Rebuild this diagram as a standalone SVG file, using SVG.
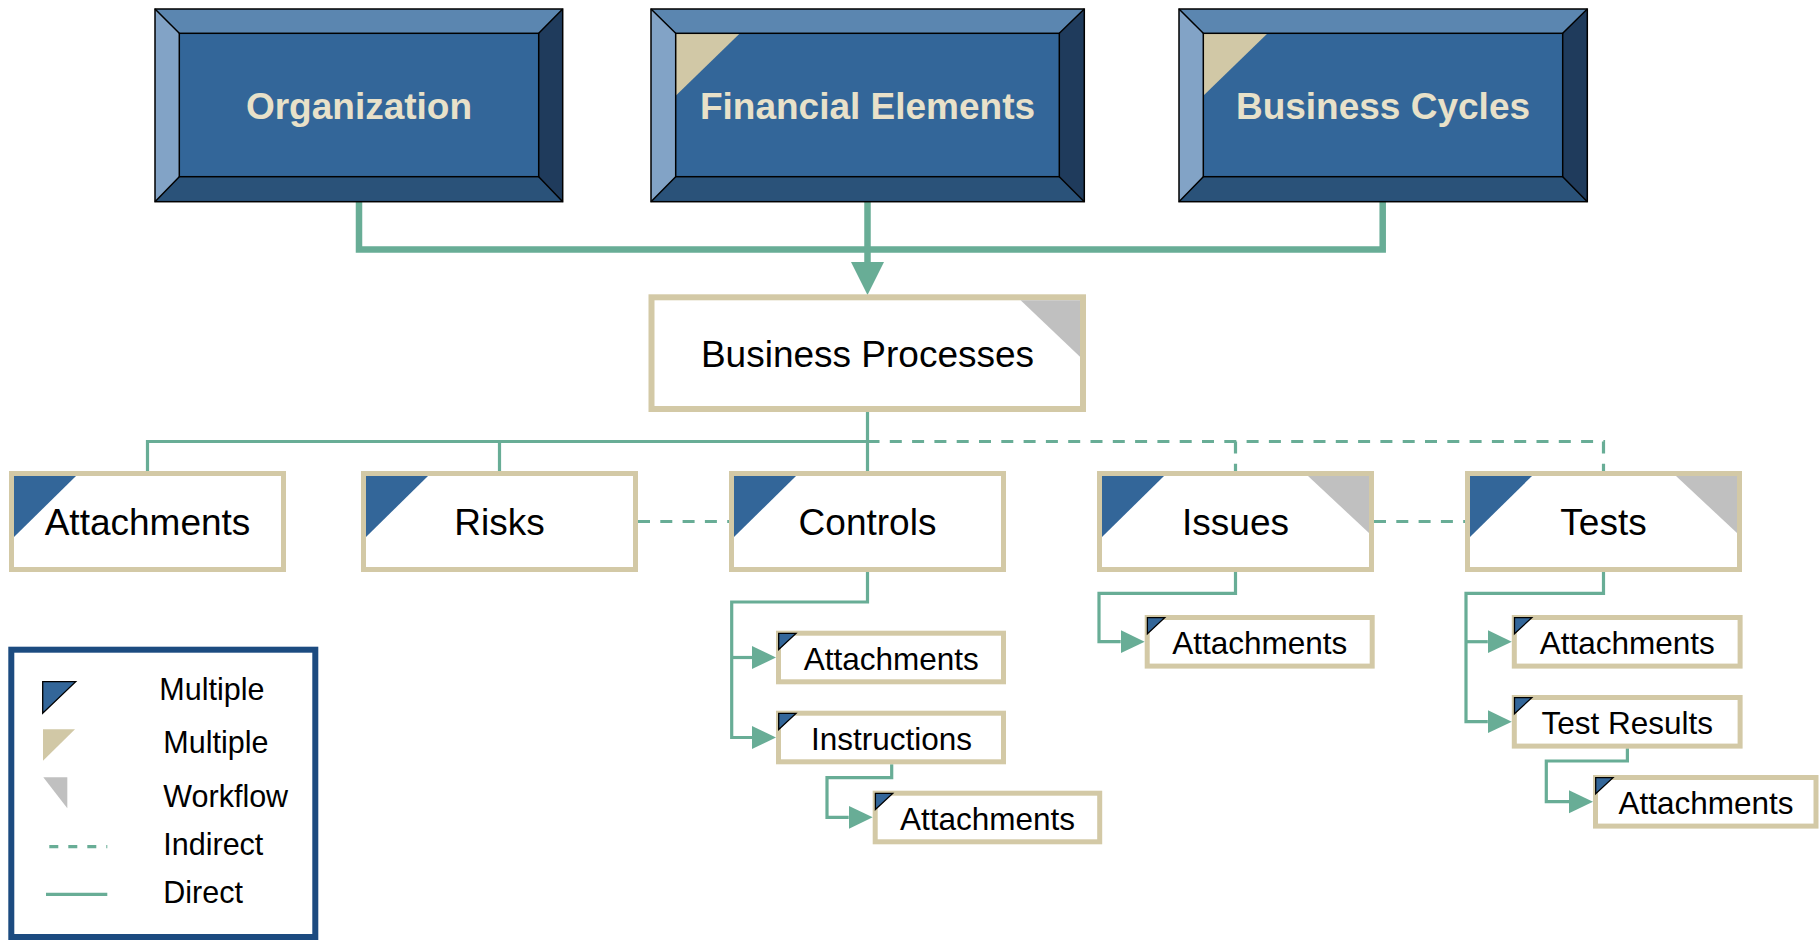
<svg xmlns="http://www.w3.org/2000/svg" width="1820" height="941" viewBox="0 0 1820 941">
  <defs>
    <style>
      .top-c{fill:#336699}
      .bev-t{fill:#5b86b0}
      .bev-l{fill:#82a3c6}
      .bev-r{fill:#1f3b5c}
      .bev-b{fill:#2a5279}
      .edge{fill:none;stroke:#000;stroke-width:1.5}
      .ttl{font-family:"Liberation Sans",Arial,sans-serif;font-weight:bold;font-size:37px;fill:#e8e1c9;text-anchor:middle}
      .tri-beige{fill:#d1c8a6}
      .box{fill:#fff;stroke:#d3c9a6;stroke-width:5}
      .box6{fill:#fff;stroke:#d3c9a6;stroke-width:6}
      .lbl{font-family:"Liberation Sans",Arial,sans-serif;font-size:37px;fill:#000;text-anchor:middle}
      .slbl{font-family:"Liberation Sans",Arial,sans-serif;font-size:31.5px;fill:#000;text-anchor:middle}
      .leg{font-family:"Liberation Sans",Arial,sans-serif;font-size:30.5px;fill:#000}
      .tri-blue{fill:#336699}
      .tri-sblue{fill:#336699;stroke:#000;stroke-width:1.3}
      .tri-gray{fill:#c0c0c0}
      .thick{fill:none;stroke:#68ad96;stroke-width:6.5;stroke-linejoin:miter}
      .thin{fill:none;stroke:#68ad96;stroke-width:3.2;stroke-linejoin:miter}
      .dash{fill:none;stroke:#68ad96;stroke-width:3.2;stroke-dasharray:12 10.3}
      .arr{fill:none;stroke:#68ad96;stroke-width:3.2;marker-end:url(#arrow)}
    </style>
    <marker id="arrow" markerUnits="userSpaceOnUse" markerWidth="24" markerHeight="24" viewBox="0 0 24 24" refX="0" refY="12" orient="auto">
      <path d="M0,0.5 L24,12 L0,23.5 z" fill="#68ad96"/>
    </marker>
  </defs>

  <!-- Connectors -->
  <g id="connectors">
    <path class="thick" d="M359,201.7 V249.5 H1382.7 V201.7"/>
    <path class="thick" d="M867.5,201.7 V264"/>
    <polygon points="851,262 884,262 867.5,295" fill="#68ad96"/>

    <path class="thin" d="M147.5,471 V441.5 H867.5"/>
    <path class="thin" d="M499.5,441.5 V471"/>
    <path class="thin" d="M867.5,412 V471"/>
    <path class="dash" d="M867.5,441.5 H1603.5 V471"/>
    <path class="dash" d="M1235.5,441.5 V471"/>
    <path class="dash" d="M638,521.5 H729"/>
    <path class="dash" d="M1374,521.5 H1465"/>

    <path class="arr" d="M867.5,572 V602 H731.7 V737.5 H752"/>
    <path class="arr" d="M731.7,657.5 H752"/>
    <path class="arr" d="M891.7,764.3 V777.7 H827 V817.3 H848.7"/>
    <path class="arr" d="M1235.5,572 V593.3 H1099 V641.7 H1120.7"/>
    <path class="arr" d="M1603.5,572 V593.3 H1466 V721.7 H1487.8"/>
    <path class="arr" d="M1466,641.7 H1487.8"/>
    <path class="arr" d="M1627.4,748.3 V761 H1546.3 V801.7 H1569"/>
  </g>

  <!-- Top beveled nodes -->
  <g id="node-organization">
    <rect class="top-c" x="179.3" y="33.3" width="359.4" height="143.4"/>
    <polygon class="bev-t" points="155,9 562.7,9 538.7,33.3 179.3,33.3"/>
    <polygon class="bev-l" points="155,9 179.3,33.3 179.3,176.7 155,201.7"/>
    <polygon class="bev-r" points="562.7,9 562.7,201.7 538.7,176.7 538.7,33.3"/>
    <polygon class="bev-b" points="155,201.7 179.3,176.7 538.7,176.7 562.7,201.7"/>
    <rect class="edge" x="155" y="9" width="407.7" height="192.7"/>
    <rect class="edge" x="179.3" y="33.3" width="359.4" height="143.4"/>
    <path class="edge" d="M155,9 L179.3,33.3 M562.7,9 L538.7,33.3 M155,201.7 L179.3,176.7 M562.7,201.7 L538.7,176.7"/>
    <text class="ttl" x="359" y="119">Organization</text>
  </g>

  <g id="node-financial-elements">
    <rect class="top-c" x="675.7" y="33.3" width="383.6" height="143.4"/>
    <polygon class="bev-t" points="651,9 1084.3,9 1059.3,33.3 675.7,33.3"/>
    <polygon class="bev-l" points="651,9 675.7,33.3 675.7,176.7 651,201.7"/>
    <polygon class="bev-r" points="1084.3,9 1084.3,201.7 1059.3,176.7 1059.3,33.3"/>
    <polygon class="bev-b" points="651,201.7 675.7,176.7 1059.3,176.7 1084.3,201.7"/>
    <polygon class="tri-beige" points="675.7,33.3 740,33.3 675.7,95.7"/>
    <rect class="edge" x="651" y="9" width="433.3" height="192.7"/>
    <rect class="edge" x="675.7" y="33.3" width="383.6" height="143.4"/>
    <path class="edge" d="M651,9 L675.7,33.3 M1084.3,9 L1059.3,33.3 M651,201.7 L675.7,176.7 M1084.3,201.7 L1059.3,176.7"/>
    <text class="ttl" x="867.5" y="119">Financial Elements</text>
  </g>

  <g id="node-business-cycles">
    <rect class="top-c" x="1203.3" y="33.3" width="359.4" height="143.4"/>
    <polygon class="bev-t" points="1179,9 1587.3,9 1562.7,33.3 1203.3,33.3"/>
    <polygon class="bev-l" points="1179,9 1203.3,33.3 1203.3,176.7 1179,201.7"/>
    <polygon class="bev-r" points="1587.3,9 1587.3,201.7 1562.7,176.7 1562.7,33.3"/>
    <polygon class="bev-b" points="1179,201.7 1203.3,176.7 1562.7,176.7 1587.3,201.7"/>
    <polygon class="tri-beige" points="1203.3,33.3 1267.7,33.3 1203.3,95.7"/>
    <rect class="edge" x="1179" y="9" width="408.3" height="192.7"/>
    <rect class="edge" x="1203.3" y="33.3" width="359.4" height="143.4"/>
    <path class="edge" d="M1179,9 L1203.3,33.3 M1587.3,9 L1562.7,33.3 M1179,201.7 L1203.3,176.7 M1587.3,201.7 L1562.7,176.7"/>
    <text class="ttl" x="1383" y="119">Business Cycles</text>
  </g>

  <!-- Business Processes -->
  <g id="node-business-processes">
    <rect class="box6" x="651.5" y="297.3" width="431.5" height="111.7"/>
    <polygon class="tri-gray" points="1020.6,300.3 1080,300.3 1080,356.7"/>
    <text class="lbl" x="867.5" y="366.7">Business Processes</text>
  </g>

  <!-- Second level -->
  <g id="node-attachments">
    <rect class="box" x="11.5" y="473.5" width="272" height="96"/>
    <polygon class="tri-blue" points="14,476 76,476 14,537"/>
    <text class="lbl" x="147.5" y="535">Attachments</text>
  </g>
  <g id="node-risks">
    <rect class="box" x="363.5" y="473.5" width="272" height="96"/>
    <polygon class="tri-blue" points="366,476 428,476 366,537"/>
    <text class="lbl" x="499.5" y="535">Risks</text>
  </g>
  <g id="node-controls">
    <rect class="box" x="731.5" y="473.5" width="272" height="96"/>
    <polygon class="tri-blue" points="734,476 796,476 734,537"/>
    <text class="lbl" x="867.5" y="535">Controls</text>
  </g>
  <g id="node-issues">
    <rect class="box" x="1099.5" y="473.5" width="272" height="96"/>
    <polygon class="tri-blue" points="1102,476 1164,476 1102,537"/>
    <polygon class="tri-gray" points="1308,476 1369,476 1369,533"/>
    <text class="lbl" x="1235.5" y="535">Issues</text>
  </g>
  <g id="node-tests">
    <rect class="box" x="1467.5" y="473.5" width="272" height="96"/>
    <polygon class="tri-blue" points="1470,476 1532,476 1470,537"/>
    <polygon class="tri-gray" points="1676,476 1737,476 1737,533"/>
    <text class="lbl" x="1603.5" y="535">Tests</text>
  </g>

  <!-- Sub nodes -->
  <g id="node-controls-attachments">
    <rect class="box" x="778.5" y="633.2" width="225" height="48.6"/>
    <polygon class="tri-sblue" points="778.7,633.4 796,633.4 778.7,649.4"/>
    <text class="slbl" x="891.3" y="670">Attachments</text>
  </g>
  <g id="node-instructions">
    <rect class="box" x="778.5" y="713.2" width="225" height="48.6"/>
    <polygon class="tri-sblue" points="778.7,713.4 796,713.4 778.7,729.4"/>
    <text class="slbl" x="891.5" y="750">Instructions</text>
  </g>
  <g id="node-instructions-attachments">
    <rect class="box" x="875.2" y="793.2" width="224.5" height="48.6"/>
    <polygon class="tri-sblue" points="875.4,793.4 892.7,793.4 875.4,809.4"/>
    <text class="slbl" x="987.5" y="829.7">Attachments</text>
  </g>
  <g id="node-issues-attachments">
    <rect class="box" x="1147.2" y="617.5" width="225" height="48.6"/>
    <polygon class="tri-sblue" points="1147.4,617.7 1164.7,617.7 1147.4,633.7"/>
    <text class="slbl" x="1259.7" y="654">Attachments</text>
  </g>
  <g id="node-tests-attachments">
    <rect class="box" x="1514.3" y="617.5" width="225.8" height="48.6"/>
    <polygon class="tri-sblue" points="1514.5,617.7 1531.8,617.7 1514.5,633.7"/>
    <text class="slbl" x="1627.2" y="654">Attachments</text>
  </g>
  <g id="node-test-results">
    <rect class="box" x="1514.3" y="697.5" width="225.8" height="48.6"/>
    <polygon class="tri-sblue" points="1514.5,697.7 1531.8,697.7 1514.5,713.7"/>
    <text class="slbl" x="1627.2" y="733.5">Test Results</text>
  </g>
  <g id="node-test-results-attachments">
    <rect class="box" x="1595.5" y="777.5" width="220.5" height="48.6"/>
    <polygon class="tri-sblue" points="1595.7,777.7 1613,777.7 1595.7,793.7"/>
    <text class="slbl" x="1706" y="813.5">Attachments</text>
  </g>

  <!-- Legend -->
  <g id="legend">
    <rect x="11.3" y="649.7" width="304" height="287.3" fill="#fff" stroke="#1c4b80" stroke-width="6"/>
    <polygon class="tri-sblue" points="42.7,681.7 75.7,681.7 42.7,713.3"/>
    <polygon class="tri-beige" points="43,729.3 75,729.3 43,760.7"/>
    <polygon class="tri-gray" points="43.3,777.3 67.3,777.3 67.3,808.3"/>
    <line x1="49.3" y1="846.7" x2="107.3" y2="846.7" stroke="#68ad96" stroke-width="3.2" stroke-dasharray="9 10"/>
    <line x1="46" y1="894.3" x2="107.3" y2="894.3" stroke="#68ad96" stroke-width="3.2"/>
    <text class="leg" x="159.3" y="700">Multiple</text>
    <text class="leg" x="163.3" y="753.3">Multiple</text>
    <text class="leg" x="163.3" y="806.7">Workflow</text>
    <text class="leg" x="163.3" y="855">Indirect</text>
    <text class="leg" x="163.3" y="903.3">Direct</text>
  </g>
</svg>
